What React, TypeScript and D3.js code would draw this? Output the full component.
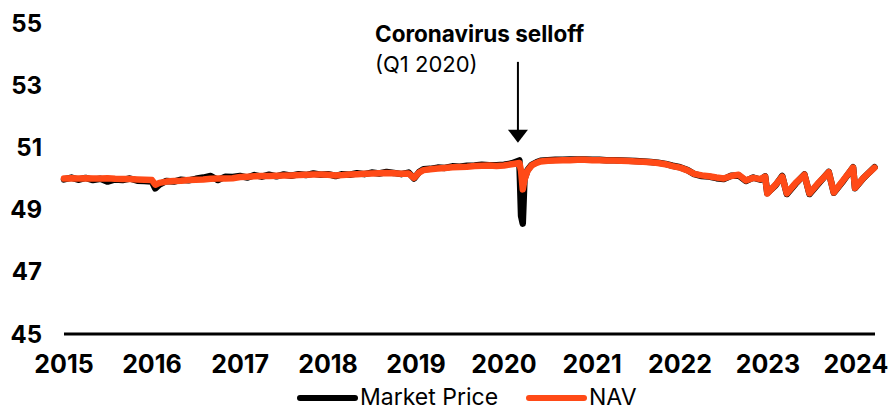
import React from 'react';
import * as d3 from 'd3';

// observation dates, shared by both series
const dates = [
  '2015-01-01', '2015-02-01', '2015-03-01', '2015-04-01', '2015-05-01', '2015-06-01', '2015-07-01', '2015-08-01', '2015-09-01', '2015-10-01', '2015-11-01', '2015-12-01',
  '2016-01-01', '2016-01-15', '2016-02-01', '2016-03-01', '2016-04-01', '2016-05-01', '2016-06-01', '2016-07-01', '2016-08-01', '2016-09-01', '2016-10-01', '2016-11-01', '2016-12-01',
  '2017-01-01', '2017-02-01', '2017-03-01', '2017-04-01', '2017-05-01', '2017-06-01', '2017-07-01', '2017-08-01', '2017-09-01', '2017-10-01', '2017-11-01', '2017-12-01',
  '2018-01-01', '2018-02-01', '2018-03-01', '2018-04-01', '2018-05-01', '2018-06-01', '2018-07-01', '2018-08-01', '2018-09-01', '2018-10-01', '2018-11-01', '2018-12-01', '2018-12-24',
  '2019-01-15', '2019-02-01', '2019-03-01', '2019-04-01', '2019-05-01', '2019-06-01', '2019-07-01', '2019-08-01', '2019-09-01', '2019-10-01', '2019-11-01', '2019-12-01',
  '2020-01-01', '2020-02-01', '2020-03-05', '2020-03-12', '2020-03-19', '2020-03-26', '2020-04-08', '2020-04-25', '2020-05-15', '2020-06-01', '2020-07-01', '2020-08-01', '2020-09-01', '2020-10-01', '2020-11-01', '2020-12-01',
  '2021-01-01', '2021-02-01', '2021-03-01', '2021-04-01', '2021-05-01', '2021-06-01', '2021-07-01', '2021-08-01', '2021-09-01', '2021-10-01', '2021-11-01', '2021-12-01',
  '2022-01-01', '2022-02-01', '2022-03-01', '2022-04-01', '2022-05-01', '2022-06-01', '2022-07-01', '2022-08-01', '2022-09-01', '2022-10-01', '2022-11-01', '2022-12-01', '2022-12-20', '2022-12-29',
  '2023-02-01', '2023-03-01', '2023-03-20', '2023-04-25', '2023-06-01', '2023-06-22', '2023-08-01', '2023-09-10', '2023-10-01', '2023-11-10', '2023-12-20', '2023-12-28',
  '2024-02-01', '2024-03-18',
];

const nav = [
  50.00, 50.01, 50.00, 50.01, 50.00, 50.00, 50.01, 49.99, 49.98, 49.98, 49.97, 49.96,
  49.95, 49.80, 49.86, 49.90, 49.92, 49.93, 49.95, 49.96, 49.97, 49.99, 50.00, 50.00, 50.01,
  50.05, 50.06, 50.07, 50.08, 50.08, 50.09, 50.10, 50.10, 50.11, 50.12, 50.13, 50.13,
  50.12, 50.10, 50.11, 50.13, 50.14, 50.15, 50.16, 50.17, 50.18, 50.17, 50.15, 50.16, 50.02,
  50.20, 50.27, 50.30, 50.32, 50.34, 50.36, 50.37, 50.38, 50.40, 50.41, 50.42, 50.40,
  50.42, 50.46, 50.50, 50.25, 49.65, 49.95, 50.25, 50.42, 50.50, 50.55, 50.57, 50.58, 50.59, 50.59, 50.60, 50.60,
  50.59, 50.59, 50.58, 50.58, 50.57, 50.56, 50.55, 50.54, 50.52, 50.50, 50.46, 50.40,
  50.35, 50.26, 50.15, 50.10, 50.07, 50.03, 50.00, 50.08, 50.12, 49.94, 50.02, 49.98, 50.06, 49.52,
  49.80, 50.06, 49.52, 49.85, 50.12, 49.52, 49.88, 50.20, 49.55, 49.95, 50.35, 49.70,
  50.02, 50.35,
];

const marketPrice = [
  49.97, 50.03, 49.96, 50.02, 49.95, 49.99, 49.90, 49.97, 49.95, 50.00, 49.93, 49.92,
  49.90, 49.68, 49.80, 49.92, 49.90, 49.96, 49.94, 49.99, 50.03, 50.08, 49.95, 50.06, 50.05,
  50.08, 50.03, 50.11, 50.06, 50.12, 50.07, 50.13, 50.09, 50.14, 50.11, 50.16, 50.12,
  50.14, 50.08, 50.14, 50.12, 50.17, 50.14, 50.19, 50.16, 50.21, 50.18, 50.14, 50.19, 50.00,
  50.22, 50.30, 50.31, 50.35, 50.34, 50.39, 50.38, 50.41, 50.42, 50.44, 50.43, 50.43,
  50.44, 50.48, 50.58, 48.80, 48.55, 49.98, 50.27, 50.44, 50.52, 50.57, 50.59, 50.60, 50.60, 50.61, 50.61, 50.61,
  50.60, 50.60, 50.59, 50.59, 50.58, 50.57, 50.56, 50.55, 50.53, 50.51, 50.47, 50.41,
  50.36, 50.27, 50.14, 50.08, 50.06, 50.01, 49.98, 50.09, 50.10, 49.92, 50.03, 49.96, 50.07, 49.53,
  49.78, 50.08, 49.50, 49.83, 50.13, 49.50, 49.86, 50.21, 49.54, 49.93, 50.36, 49.69,
  50.01, 50.36,
];

const yTicks = [45, 47, 49, 51, 53, 55];
const yearTicks = [2015, 2016, 2017, 2018, 2019, 2020, 2021, 2022, 2023, 2024];
const seriesNames = ['Market Price', 'NAV'];

const ORANGE = '#ff4a17';
const FONT = 'Inter, "Open Sans", sans-serif';

export default function App() {
  const width = 895;
  const height = 411;
  const parse = d3.timeParse('%Y-%m-%d');
  const points = dates.map((d, i) => ({ date: parse(d) as Date, nav: nav[i], market: marketPrice[i] }));

  const x = d3.scaleTime()
    .domain([new Date(2015, 0, 1), new Date(2024, 2, 20)])
    .range([64, 875]);
  const y = d3.scaleLinear().domain([45, 55]).range([334, 23]);

  const marketLine = d3.line<any>().x(d => x(d.date)).y(d => y(d.market));
  const navLine = d3.line<any>().x(d => x(d.date)).y(d => y(d.nav));

  // annotation arrow pointing at the March 2020 drop
  const arrowX = x(new Date(2020, 1, 28));
  const arrowTop = y(53.75);
  const arrowTip = y(51.15);

  const legendColors = ['#000', ORANGE];
  const legendX = [300, 529];

  return (
    <svg width={width} height={height} style={{ position: 'absolute', left: 0, top: 0 }}
      fontFamily={FONT}>
      {yTicks.map(t => (
        <text key={t} x={42} y={y(t)} dy="0.36em" textAnchor="end" fontSize={24} fontWeight={700}>{t}</text>
      ))}
      {yearTicks.map(yr => (
        <text key={yr} x={x(new Date(yr, 0, 1))} y={373} textAnchor="middle" fontSize={25} fontWeight={700}>{yr}</text>
      ))}
      <line x1={x.range()[0]} x2={x.range()[1]} y1={y(45)} y2={y(45)} stroke="#000" strokeWidth={3} />

      <path d={marketLine(points) as string} fill="none" stroke="#000" strokeWidth={6.5}
        strokeLinejoin="round" strokeLinecap="round" />
      <path d={navLine(points) as string} fill="none" stroke={ORANGE} strokeWidth={6.5}
        strokeLinejoin="round" strokeLinecap="round" />

      <text x={375} y={42} fontSize={22.5} fontWeight={700}>Coronavirus selloff</text>
      <text x={375} y={72} fontSize={22} fontWeight={400}>(Q1 2020)</text>
      <line x1={arrowX} x2={arrowX} y1={arrowTop} y2={arrowTip - 10} stroke="#000" strokeWidth={2} />
      <path d={`M${arrowX - 10},${arrowTip - 13} L${arrowX + 10},${arrowTip - 13} L${arrowX},${arrowTip} Z`} fill="#000" />

      {seriesNames.map((name, i) => (
        <g key={name}>
          <line x1={legendX[i]} x2={legendX[i] + 55} y1={398} y2={398} stroke={legendColors[i]}
            strokeWidth={6} strokeLinecap="round" />
          <text x={legendX[i] + 60} y={405} fontSize={23}>{name}</text>
        </g>
      ))}
    </svg>
  );
}
